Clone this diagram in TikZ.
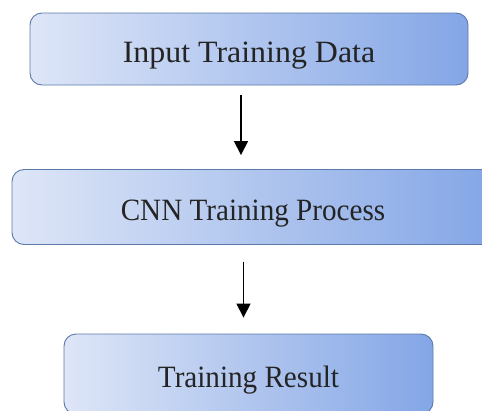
\documentclass[tikz,border=0pt]{standalone}
\usepackage{fontspec}
\setmainfont{Liberation Serif}
\usetikzlibrary{arrows.meta,calc}
\definecolor{gleft}{RGB}{222,230,247}
\definecolor{gright}{RGB}{132,166,230}
\definecolor{bord}{RGB}{90,122,170}
\definecolor{txt}{RGB}{36,36,36}
\tikzset{
  flowbox/.style={draw=bord, line width=0.9pt, rounded corners=12pt,
    left color=gleft, right color=gright,
    text=txt, font=\fontsize{31}{37}\selectfont, inner sep=0pt,
    text height=26pt, text depth=0pt},
  flowarrow/.style={line width=1.6pt, -{Triangle[length=14pt,width=14pt]}}
}
\begin{document}
\begin{tikzpicture}[x=1pt,y=-1pt]
\useasboundingbox (0,0) rectangle (482,410);
\clip (0,0) rectangle (482,410);
\node[flowbox, minimum width=438pt, minimum height=72pt] (n1) at (249,49) {\scalebox{1.03}[1]{Input Training Data}};
\node[flowbox, minimum width=482pt, minimum height=75pt] (n2) at (253,207) {\scalebox{0.94}[1]{CNN Training Process}};
\node[flowbox, minimum width=369pt, minimum height=80pt] (n3) at (248.5,374) {\scalebox{0.94}[1]{Training Result}};
\coordinate (a1) at (241,0);
\coordinate (a2) at (243.5,0);
\draw[flowarrow, shorten <=10pt, shorten >=14pt] (n1.south -| a1) -- (n2.north -| a1);
\draw[flowarrow, shorten <=17pt, shorten >=16pt] (n2.south -| a2) -- (n3.north -| a2);
\end{tikzpicture}
\end{document}
